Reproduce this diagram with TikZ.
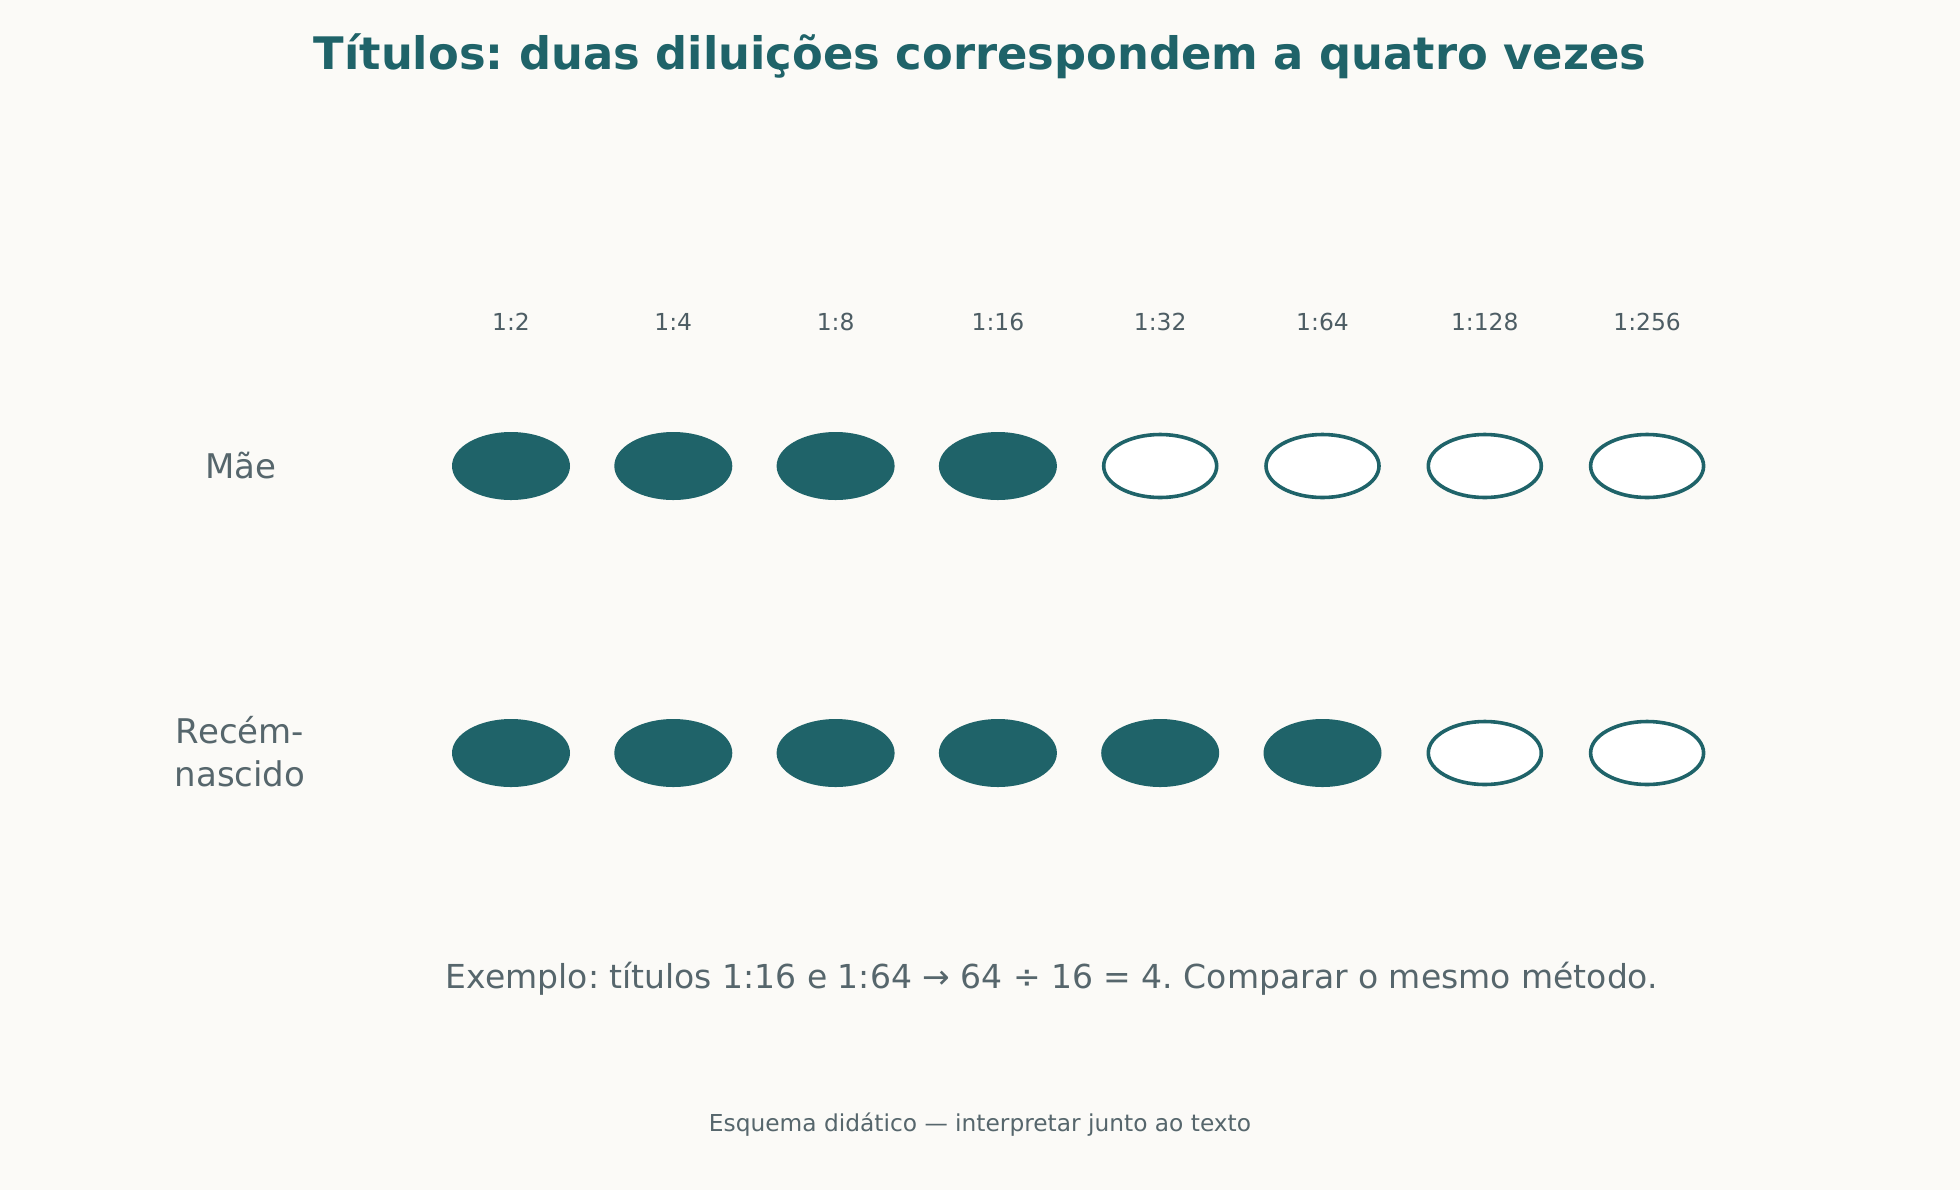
\documentclass[tikz,border=0pt]{standalone}
\usepackage{fontspec}
\setmainfont{DejaVu Sans}
\usetikzlibrary{shapes.geometric}
\frenchspacing
\definecolor{bg}{HTML}{FBFAF7}
\definecolor{teal}{HTML}{1F6369}
\definecolor{txt}{HTML}{4D5D64}
\definecolor{rowtxt}{HTML}{56666C}
\tikzset{
  dot/.style={ellipse, inner sep=0pt, minimum width=59pt, minimum height=34pt, fill=teal},
  hollow/.style={ellipse, inner sep=0pt, minimum width=56.5pt, minimum height=31.5pt, draw=teal, line width=1.8pt, fill=white},
  dilab/.style={font=\fontsize{11.7}{14}\selectfont, text=txt},
  rowlab/.style={font=\fontsize{17}{21.5}\selectfont, text=rowtxt, align=center},
}
\begin{document}
\begin{tikzpicture}[x=0.5pt,y=-0.5pt]
\useasboundingbox[fill=bg] (0,0) rectangle (1960,1190);
\node[font=\bfseries\fontsize{22.4}{26}\selectfont, text=teal] (title) at (980,56) {Títulos: duas diluições correspondem a quatro vezes};
\foreach \i/\t in {1/1:2,2/1:4,3/1:8,4/1:16,5/1:32,6/1:64,7/1:128,8/1:256} {
  \node[dilab] (lab\i) at ({511+162.3*(\i-1)},322) {\t};
}
\foreach \i in {1,...,4} { \node[dot] (m\i) at ({511+162.3*(\i-1)},466) {}; }
\foreach \i in {5,...,8} { \node[hollow] (m\i) at ({511+162.3*(\i-1)},466) {}; }
\foreach \i in {1,...,6} { \node[dot] (n\i) at ({511+162.3*(\i-1)},753) {}; }
\foreach \i in {7,8} { \node[hollow] (n\i) at ({511+162.3*(\i-1)},753) {}; }
\node[rowlab] (mae) at (241,466) {Mãe};
\node[rowlab] (rn) at (240,752) {Recém-\\nascido};
\node[font=\fontsize{16.5}{19}\selectfont, text=rowtxt] (ex) at (1052,979) {Exemplo: títulos 1:16 e 1:64 → 64 ÷ 16 = 4. Comparar o mesmo método.};
\node[font=\fontsize{11.65}{13}\selectfont, text=rowtxt] (foot) at (980,1125) {Esquema didático — interpretar junto ao texto};
\end{tikzpicture}
\end{document}
